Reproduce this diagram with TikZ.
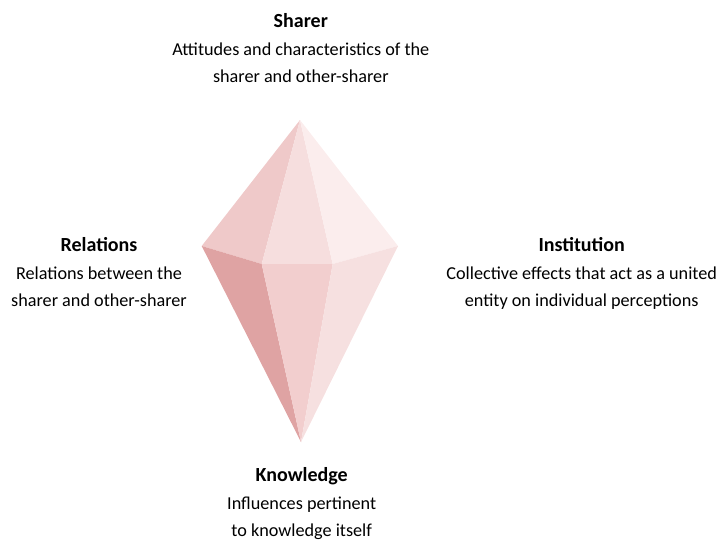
\documentclass[tikz,border=0pt]{standalone}
\usepackage{fontspec}
\setmainfont{Carlito}
\usetikzlibrary{positioning}

\definecolor{facetTL}{HTML}{EFC9C9}
\definecolor{facetTF}{HTML}{F6DEDE}
\definecolor{facetTR}{HTML}{FBEDED}
\definecolor{facetBL}{HTML}{DFA3A3}
\definecolor{facetBF}{HTML}{F2CECE}
\definecolor{facetBR}{HTML}{F6E0E0}

\tikzset{
    head/.style={anchor=base, inner sep=0pt, font=\fontsize{20}{26}\selectfont\bfseries},
    body/.style={anchor=north, inner sep=0pt, align=center, font=\fontsize{18.2}{27}\selectfont}
}

\begin{document}
\begin{tikzpicture}[x=1pt, y=-1pt]
\useasboundingbox (0,0) rectangle (720,541);

% crystal corners
\coordinate (top) at (300,120);
\coordinate (left) at (201.7,246);
\coordinate (right) at (398,246);
\coordinate (fl) at (261.7,264);
\coordinate (fr) at (332.7,264);
\coordinate (bot) at (301,442);

\fill[facetTL] (top) -- (left) -- (fl) -- cycle;
\fill[facetTF] (top) -- (fl) -- (fr) -- cycle;
\fill[facetTR] (top) -- (fr) -- (right) -- cycle;
\fill[facetBL] (left) -- (fl) -- (bot) -- cycle;
\fill[facetBF] (fl) -- (fr) -- (bot) -- cycle;
\fill[facetBR] (fr) -- (right) -- (bot) -- cycle;

% labels
\node (sharer) at (300.8,27) [head] {Sharer};
\node (sharertext) at (300.8,42.5) [body] {Attitudes and characteristics of the\\sharer and other-sharer};

\node (relations) at (99,251.7) [head] {Relations};
\node (relationstext) at (99,267) [body] {Relations between the\\sharer and other-sharer};

\node (institution) at (581.7,251.7) [head] {Institution};
\node (institutiontext) at (581.7,267) [body] {Collective effects that act as a united\\entity on individual perceptions};

\node (knowledge) at (301.7,481.5) [head] {Knowledge};
\node (knowledgetext) at (301.7,497) [body] {Influences pertinent\\to knowledge itself};
\end{tikzpicture}
\end{document}
